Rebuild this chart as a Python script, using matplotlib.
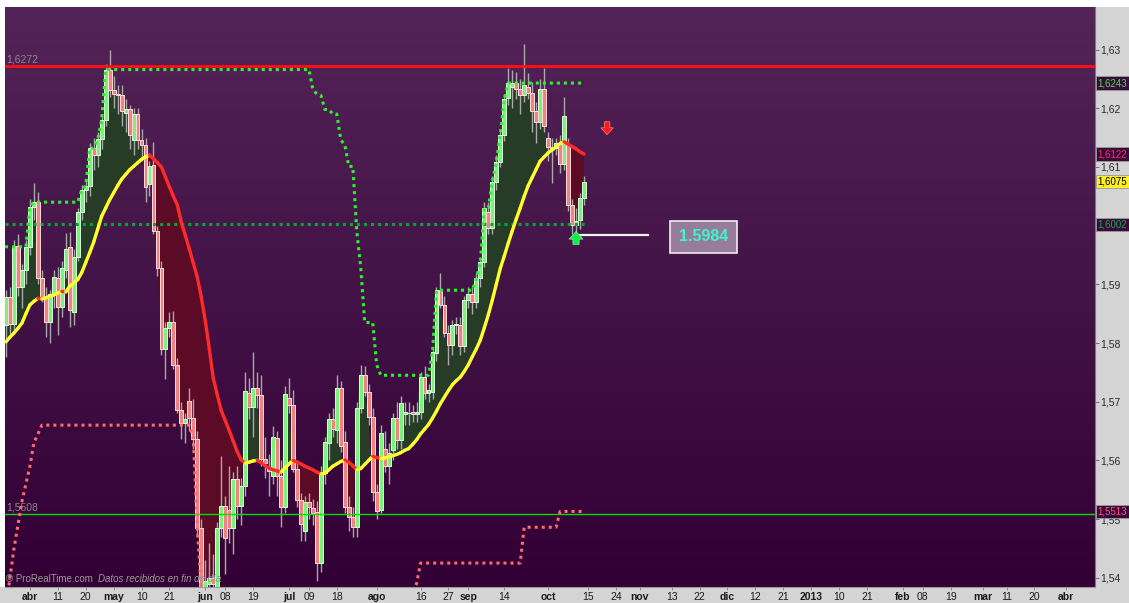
import numpy as np
import matplotlib
matplotlib.use("Agg")
import matplotlib.pyplot as plt
import matplotlib.transforms as mtransforms
from matplotlib.collections import LineCollection
from matplotlib.patches import Rectangle
from matplotlib.colors import LinearSegmentedColormap

plt.rcParams['font.family'] = ['Liberation Sans', 'DejaVu Sans']

# ---------------- data (GBP/USD daily) ----------------
first_day = '2012-03-23'
axis_origin = '2012-04-02'

opens = [1.5830, 1.5878, 1.5832, 1.5965, 1.5896, 1.5925, 1.5964, 1.6032, 1.6040, 1.5911,
         1.5878, 1.5836, 1.5884, 1.5910, 1.5862, 1.5924, 1.5964, 1.5853, 1.5947, 1.6024,
         1.6061, 1.6068, 1.6132, 1.6121, 1.6147, 1.6180, 1.6266, 1.6232, 1.6224, 1.6223,
         1.6192, 1.6198, 1.6146, 1.6190, 1.6146, 1.6138,
         1.6071, 1.6104, 1.5991, 1.5928, 1.5790, 1.5826, 1.5835, 1.5763, 1.5685, 1.5664,
         1.5701, 1.5673, 1.5637, 1.5484, 1.5378, 1.5390, 1.5400, 1.5383, 1.5484, 1.5523,
         1.5516, 1.5484, 1.5568, 1.5523, 1.5556, 1.5715, 1.5691, 1.5724, 1.5712, 1.5603,
         1.5588, 1.5574, 1.5638, 1.5574, 1.5520,
         1.5707, 1.5694, 1.5586, 1.5532, 1.5480, 1.5529, 1.5518, 1.5512, 1.5425, 1.5578,
         1.5629, 1.5670, 1.5651, 1.5723, 1.5631, 1.5520, 1.5503, 1.5486, 1.5689, 1.5745,
         1.5717, 1.5674, 1.5546, 1.5515, 1.5619, 1.5591, 1.5617, 1.5672, 1.5634, 1.5679,
         1.5680, 1.5682, 1.5679, 1.5682, 1.5742, 1.5714, 1.5717,
         1.5783, 1.5890, 1.5865, 1.5817, 1.5796, 1.5830, 1.5830, 1.5795, 1.5873, 1.5884,
         1.5870, 1.5910, 1.5938, 1.6024, 1.5996, 1.6075, 1.6109, 1.6155, 1.6218, 1.6237,
         1.6243, 1.6233, 1.6223, 1.6237, 1.6226, 1.6195, 1.6176, 1.6233, 1.6150, 1.6134,
         1.6132, 1.6141, 1.6105, 1.6138, 1.6035, 1.6001, 1.6010, 1.6047]
highs = [1.5890, 1.5895, 1.5975, 1.5985, 1.5935, 1.5975, 1.6045, 1.6072, 1.6058, 1.5925,
         1.5895, 1.5890, 1.5925, 1.5930, 1.5940, 1.5987, 1.5990, 1.5960, 1.6030, 1.6070,
         1.6080, 1.6140, 1.6150, 1.6160, 1.6190, 1.6275, 1.6300, 1.6255, 1.6240, 1.6240,
         1.6215, 1.6205, 1.6200, 1.6200, 1.6165, 1.6150,
         1.6110, 1.6143, 1.6000, 1.5940, 1.5835, 1.5853, 1.5855, 1.5775, 1.5700, 1.5680,
         1.5724, 1.5705, 1.5650, 1.5500, 1.5430, 1.5460, 1.5440, 1.5495, 1.5607, 1.5540,
         1.5591, 1.5580, 1.5590, 1.5570, 1.5750, 1.5740, 1.5784, 1.5750, 1.5745, 1.5640,
         1.5610, 1.5658, 1.5650, 1.5600, 1.5727,
         1.5740, 1.5720, 1.5600, 1.5545, 1.5540, 1.5545, 1.5535, 1.5530, 1.5590, 1.5640,
         1.5680, 1.5690, 1.5745, 1.5735, 1.5650, 1.5540, 1.5520, 1.5700, 1.5762, 1.5760,
         1.5730, 1.5690, 1.5560, 1.5660, 1.5650, 1.5630, 1.5680, 1.5700, 1.5710, 1.5700,
         1.5700, 1.5695, 1.5700, 1.5750, 1.5760, 1.5730, 1.5790,
         1.5895, 1.5919, 1.5880, 1.5830, 1.5840, 1.5845, 1.5845, 1.5880, 1.5895, 1.5895,
         1.5920, 1.5945, 1.6040, 1.6040, 1.6085, 1.6120, 1.6165, 1.6225, 1.6269, 1.6265,
         1.6262, 1.6250, 1.6309, 1.6260, 1.6245, 1.6210, 1.6250, 1.6269, 1.6160, 1.6150,
         1.6150, 1.6155, 1.6220, 1.6150, 1.6045, 1.6030, 1.6055, 1.6085]
lows = [1.5776, 1.5815, 1.5820, 1.5880, 1.5860, 1.5900, 1.5950, 1.6010, 1.5900, 1.5870,
        1.5810, 1.5800, 1.5860, 1.5813, 1.5845, 1.5910, 1.5827, 1.5830, 1.5940, 1.6010,
        1.6040, 1.6050, 1.6095, 1.6100, 1.6130, 1.6170, 1.6220, 1.6200, 1.6190, 1.6170,
        1.6160, 1.6130, 1.6120, 1.6130, 1.6110, 1.6040,
        1.6050, 1.5985, 1.5915, 1.5780, 1.5739, 1.5810, 1.5755, 1.5680, 1.5637, 1.5630,
        1.5650, 1.5620, 1.5470, 1.5300, 1.5270, 1.5330, 1.5340, 1.5370, 1.5470, 1.5407,
        1.5460, 1.5440, 1.5500, 1.5490, 1.5540, 1.5670, 1.5640, 1.5690, 1.5590, 1.5570,
        1.5540, 1.5560, 1.5540, 1.5487, 1.5510,
        1.5680, 1.5580, 1.5520, 1.5463, 1.5463, 1.5500, 1.5490, 1.5395, 1.5410, 1.5560,
        1.5600, 1.5640, 1.5630, 1.5615, 1.5510, 1.5480, 1.5470, 1.5470, 1.5680, 1.5710,
        1.5660, 1.5530, 1.5500, 1.5510, 1.5580, 1.5560, 1.5600, 1.5620, 1.5620, 1.5660,
        1.5660, 1.5665, 1.5665, 1.5670, 1.5705, 1.5700, 1.5705,
        1.5770, 1.5860, 1.5810, 1.5762, 1.5780, 1.5815, 1.5780, 1.5785, 1.5860, 1.5850,
        1.5860, 1.5895, 1.5930, 1.5985, 1.5985, 1.6060, 1.6100, 1.6145, 1.6205, 1.6200,
        1.6215, 1.6190, 1.6210, 1.6215, 1.6160, 1.6140, 1.6165, 1.6160, 1.6110, 1.6073,
        1.6120, 1.6090, 1.6095, 1.6025, 1.5985, 1.5984, 1.5995, 1.6035]
closes = [1.5878, 1.5832, 1.5965, 1.5896, 1.5925, 1.5964, 1.6032, 1.6040, 1.5911, 1.5878,
          1.5836, 1.5884, 1.5913, 1.5862, 1.5927, 1.5961, 1.5856, 1.5947, 1.6024, 1.6061,
          1.6068, 1.6132, 1.6121, 1.6147, 1.6180, 1.6266, 1.6232, 1.6224, 1.6222, 1.6195,
          1.6198, 1.6155, 1.6190, 1.6146, 1.6138, 1.6066,
          1.6101, 1.5991, 1.5928, 1.5789, 1.5826, 1.5835, 1.5763, 1.5685, 1.5664, 1.5670,
          1.5673, 1.5637, 1.5484, 1.5378, 1.5395, 1.5400, 1.5390, 1.5484, 1.5523, 1.5467,
          1.5484, 1.5568, 1.5523, 1.5556, 1.5718, 1.5691, 1.5724, 1.5712, 1.5602, 1.5596,
          1.5582, 1.5640, 1.5574, 1.5520, 1.5713,
          1.5695, 1.5586, 1.5532, 1.5492, 1.5529, 1.5521, 1.5511, 1.5425, 1.5578, 1.5631,
          1.5670, 1.5653, 1.5723, 1.5625, 1.5520, 1.5503, 1.5486, 1.5689, 1.5745, 1.5717,
          1.5674, 1.5546, 1.5513, 1.5646, 1.5591, 1.5613, 1.5672, 1.5634, 1.5697, 1.5682,
          1.5681, 1.5679, 1.5683, 1.5742, 1.5715, 1.5720, 1.5785,
          1.5890, 1.5865, 1.5817, 1.5796, 1.5830, 1.5832, 1.5795, 1.5873, 1.5884, 1.5870,
          1.5910, 1.5938, 1.6030, 1.5996, 1.6075, 1.6109, 1.6155, 1.6215, 1.6243, 1.6243,
          1.6233, 1.6223, 1.6240, 1.6226, 1.6195, 1.6176, 1.6233, 1.6170, 1.6134, 1.6132,
          1.6141, 1.6105, 1.6186, 1.6035, 1.6001, 1.6008, 1.6047, 1.6075]

# moving average (yellow rising / red falling), one value per bar
moving_avg = [1.5802, 1.5810, 1.5817, 1.5825, 1.5834, 1.5850, 1.5865, 1.5871, 1.5876, 1.5875,
              1.5877, 1.5880, 1.5882, 1.5885, 1.5888, 1.5887, 1.5897, 1.5902, 1.5908, 1.5920,
              1.5937, 1.5954, 1.5972, 1.5994, 1.6016, 1.6030, 1.6044, 1.6056, 1.6068, 1.6079,
              1.6087, 1.6095, 1.6101, 1.6107, 1.6113, 1.6117,
              1.6120, 1.6114, 1.6107, 1.6100, 1.6083, 1.6066, 1.6050, 1.6035, 1.6005, 1.5983,
              1.5960, 1.5936, 1.5912, 1.5878, 1.5838, 1.5790, 1.5740, 1.5712, 1.5685, 1.5668,
              1.5651, 1.5633, 1.5615, 1.5601, 1.5595, 1.5597, 1.5599, 1.5600, 1.5596, 1.5591,
              1.5587, 1.5584, 1.5582, 1.5580, 1.5587,
              1.5594, 1.5600, 1.5597, 1.5594, 1.5590, 1.5587, 1.5584, 1.5580, 1.5577, 1.5578,
              1.5584, 1.5590, 1.5594, 1.5598, 1.5601, 1.5597, 1.5591, 1.5584, 1.5586, 1.5593,
              1.5600, 1.5607, 1.5605, 1.5603, 1.5604, 1.5606, 1.5608, 1.5610, 1.5613, 1.5617,
              1.5620, 1.5627, 1.5635, 1.5645, 1.5653, 1.5661, 1.5672,
              1.5684, 1.5697, 1.5708, 1.5719, 1.5729, 1.5736, 1.5742, 1.5752, 1.5763, 1.5777,
              1.5790, 1.5805, 1.5826, 1.5848, 1.5873, 1.5900, 1.5927, 1.5948, 1.5970, 1.5991,
              1.6011, 1.6030, 1.6050, 1.6068, 1.6082, 1.6096, 1.6110, 1.6117, 1.6124, 1.6129,
              1.6134, 1.6140, 1.6143, 1.6139, 1.6135, 1.6131, 1.6126, 1.6122]

# upper channel (green dots): vertices (bar, level)
upper_bar = [-6.25, -1, 0, 1, 12, 13, 14, 15, 16, 17, 18, 19, 70, 71, 72, 73, 74, 75, 76, 77,
             78, 79, 80, 81, 82, 83, 84, 86, 87, 88, 100, 101, 102, 111, 112, 113, 114, 115,
             116, 117, 118, 119, 120, 139]
upper_level = [1.5964, 1.5964, 1.6032, 1.6040, 1.6040, 1.6061, 1.6068, 1.6132, 1.6132, 1.6147,
               1.6180, 1.6266, 1.6266, 1.6232, 1.6224, 1.6222, 1.6198, 1.6198, 1.6190, 1.6190,
               1.6146, 1.6138, 1.6101, 1.6101, 1.5991, 1.5928, 1.5835, 1.5835, 1.5763, 1.5745,
               1.5745, 1.5785, 1.5890, 1.5890, 1.5910, 1.5938, 1.6030, 1.6030,
               1.6075, 1.6109, 1.6155, 1.6215, 1.6243, 1.6243]

# lower channel (red dots): vertices (bar, level)
lower_bar = [-5.5, -4, -2, 0, 1, 3, 40, 41, 42, 43, 96, 97, 98, 123, 124, 132, 133, 139]
lower_level = [1.5375, 1.5450, 1.5530, 1.5590, 1.5630, 1.5660, 1.5660, 1.5637, 1.5484, 1.5378,
               1.5378, 1.5390, 1.5425, 1.5425, 1.5486, 1.5486, 1.5513, 1.5513]

resistance = 1.6272
support = 1.5508
pivot = 1.6002
last_low = 1.5984

tick_dates = ['2012-04-02', '2012-04-11', '2012-04-20', '2012-05-01', '2012-05-10', '2012-05-21',
              '2012-06-01', '2012-06-08', '2012-06-19', '2012-07-02', '2012-07-09', '2012-07-18',
              '2012-08-01', '2012-08-16', '2012-08-27', '2012-09-03', '2012-09-14', '2012-10-01',
              '2012-10-15', '2012-10-24', '2012-11-01', '2012-11-13', '2012-11-22', '2012-12-03',
              '2012-12-12', '2012-12-21', '2013-01-01', '2013-01-10', '2013-01-21', '2013-02-01',
              '2013-02-08', '2013-02-19', '2013-03-01', '2013-03-11', '2013-03-20', '2013-04-01']
tick_labels = ['abr', '11', '20', 'may', '10', '21', 'jun', '08', '19', 'jul', '09', '18',
               'ago', '16', '27', 'sep', '14', 'oct', '15', '24', 'nov', '13', '22', 'dic',
               '12', '21', '2013', '10', '21', 'feb', '08', '19', 'mar', '11', '20', 'abr']
bold_labels = {'abr', 'may', 'jun', 'jul', 'ago', 'sep', 'oct', 'nov', 'dic', '2013', 'feb', 'mar'}

# 1,60 is covered by the 1,6002 tag in the reference
price_ticks = [1.54, 1.55, 1.56, 1.57, 1.58, 1.59, 1.61, 1.62, 1.63]
price_tick_labels = ['1,54', '1,55', '1,56', '1,57', '1,58', '1,59', '1,61', '1,62', '1,63']

# right-hand value tags: (value, text, text colour, background)
value_tags = [(1.6243, '1,6243', '#33ee33', '#3a0a3c'),
              (1.6122, '1,6122', '#ff3350', '#3a0a3c'),
              (1.6075, '1,6075', '#000000', '#ffee22'),
              (1.6002, '1,6002', '#11aa44', '#3a0a3c'),
              (1.5513, '1,5513', '#ff5577', '#3a0a3c')]

# ---------------- figure ----------------
W, H = 1129, 603
fig = plt.figure(figsize=(W / 100, H / 100), dpi=100, facecolor='#d4d4d4')
ax = fig.add_axes([5 / W, 16 / H, 1090 / W, 580 / H])

XMIN, XMAX = -6.25, 267.2
YMIN, YMAX = 1.53842, 1.63726

# white strips at top and left
fig.patches.append(Rectangle((0, 596 / H), 1, 7 / H, transform=fig.transFigure,
                             facecolor='white', edgecolor='none', zorder=-5))
fig.patches.append(Rectangle((0, 16 / H), 5 / W, 587 / H, transform=fig.transFigure,
                             facecolor='white', edgecolor='none', zorder=-5))

# purple gradient background
grad = np.linspace(0, 1, 256).reshape(-1, 1)
bg_cmap = LinearSegmentedColormap.from_list('bg', ['#320034', '#542458'])
ax.imshow(grad, extent=[XMIN, XMAX, YMIN, YMAX], aspect='auto', origin='lower',
          cmap=bg_cmap, zorder=0, interpolation='bilinear')

n = len(closes)
o = np.array(opens); h = np.array(highs); l = np.array(lows); c = np.array(closes)
ma = np.array(moving_avg)
bar_x = np.busday_count(axis_origin, first_day) + np.arange(n)

# fill between close and moving average
ax.fill_between(bar_x, c, ma, where=c >= ma, interpolate=True, color='#263c27', lw=0, zorder=1)
ax.fill_between(bar_x, c, ma, where=c < ma, interpolate=True, color='#5c0b26', lw=0, zorder=1)

# candles
ax.vlines(bar_x, l, h, color='#a9a9a9', lw=1.0, zorder=3)
up = c >= o
body_bottom = np.minimum(o, c)
body_h = np.maximum(np.abs(c - o), 0.00012)
ax.bar(bar_x[up], body_h[up], bottom=body_bottom[up], width=0.98, color='#7cf27c',
       edgecolor='#d8ffd8', linewidth=0.7, zorder=4)
ax.bar(bar_x[~up], body_h[~up], bottom=body_bottom[~up], width=0.98, color='#f08282',
       edgecolor='#ffdcdc', linewidth=0.7, zorder=4)

# horizontal levels
ax.axhline(resistance, color='#ff1010', lw=2.0, zorder=5)
ax.axhline(support, color='#00dd00', lw=1.0, zorder=5)
ax.plot([XMIN, bar_x[-1]], [pivot, pivot], color='#00a832', lw=2.2,
        linestyle=(0, (1, 1.3)), zorder=5)

# channels
ax.plot(upper_bar, upper_level, color='#2cf22c', lw=2.2, linestyle=(0, (1, 1.3)), zorder=6)
ax.plot(lower_bar, lower_level, color='#ff6b6b', lw=2.2, linestyle=(0, (1, 1.3)), zorder=6)

# moving average coloured by direction
pts = np.column_stack([bar_x, ma])
segs = np.stack([pts[:-1], pts[1:]], axis=1)
seg_cols = ['#ff2b2b' if ma[k + 1] < ma[k] else '#ffff2e' for k in range(n - 1)]
ax.add_collection(LineCollection(segs, colors=seg_cols, linewidths=2.4,
                                 capstyle='round', zorder=7))

# last-low marker line and tag
ax.plot([bar_x[-2], 155.1], [last_low, last_low], color='#f2f2f2', lw=1.6, zorder=7)
ax.text(168.9, last_low - 0.0003, '1.5984', ha='center', va='center', fontsize=11.5,
        fontweight='bold', color='#3cf7c8', zorder=9,
        bbox=dict(boxstyle='square,pad=0.55', facecolor='#987c9c', edgecolor='#eeeeee', lw=1.2))

# arrows
ax.annotate('', xy=(bar_x[-3], 1.5990), xytext=(bar_x[-3], 1.5968),
            arrowprops=dict(arrowstyle='simple,head_length=0.55,head_width=1.0,tail_width=0.45',
                            facecolor='#11ee44', edgecolor='#aaffaa', lw=0.4,
                            mutation_scale=10, shrinkA=0, shrinkB=0), zorder=9)
ax.annotate('', xy=(144.8, 1.6155), xytext=(144.8, 1.6177),
            arrowprops=dict(arrowstyle='simple,head_length=0.55,head_width=1.0,tail_width=0.45',
                            facecolor='#ff1a1a', edgecolor='#ff9999', lw=0.4,
                            mutation_scale=9, shrinkA=0, shrinkB=0), zorder=9)

# left level labels
ax.text(XMIN + 0.3, resistance + 0.0003, '1,6272', fontsize=7.5, color='#8a8a8a',
        va='bottom', ha='left', zorder=2)
ax.text(XMIN + 0.3, support + 0.0003, '1,5508', fontsize=7.5, color='#8a8a8a',
        va='bottom', ha='left', zorder=2)

# watermark
ax.text(0.0005, 0.006, '\u00a9 ProRealTime.com', transform=ax.transAxes, fontsize=7,
        color='#9a9a9a', va='bottom', ha='left', zorder=8)
ax.text(0.0855, 0.006, 'Datos recibidos en fin de d\u00eda', transform=ax.transAxes,
        fontsize=7, color='#9a9a9a', style='italic', va='bottom', ha='left', zorder=8)

# axes limits and styling
ax.set_xlim(XMIN, XMAX)
ax.set_ylim(YMIN, YMAX)
for side in ['left', 'top']:
    ax.spines[side].set_visible(False)
ax.spines['right'].set_color('#7a7a7a')
ax.spines['bottom'].set_color('#9a9a9a')
ax.spines['right'].set_linewidth(0.8)
ax.spines['bottom'].set_linewidth(0.8)

ax.yaxis.tick_right()
ax.set_yticks(price_ticks)
ax.set_yticklabels(price_tick_labels)
ax.tick_params(axis='y', direction='out', length=3, width=0.7, color='#707070',
               labelsize=7.5, labelcolor='#2a2a2a', pad=1)

tick_pos = np.busday_count(axis_origin, tick_dates)
ax.set_xticks(tick_pos)
ax.set_xticklabels(tick_labels)
ax.tick_params(axis='x', direction='out', length=2.5, width=0.7, color='#8a8a8a',
               labelsize=7.5, labelcolor='#1a1a1a', pad=1)
for lab in ax.get_xticklabels():
    if lab.get_text() in bold_labels:
        lab.set_fontweight('bold')

# right value tags
tag_tr = mtransforms.blended_transform_factory(ax.transAxes, ax.transData)
for val, txt, fg, bg in value_tags:
    ax.text(1.0022, val, txt, transform=tag_tr, ha='left', va='center', fontsize=7,
            color=fg, clip_on=False, zorder=12,
            bbox=dict(boxstyle='square,pad=0.18', facecolor=bg, edgecolor='#9a9a9a', lw=0.6))

fig.savefig('out.png', dpi=100, facecolor=fig.get_facecolor())
